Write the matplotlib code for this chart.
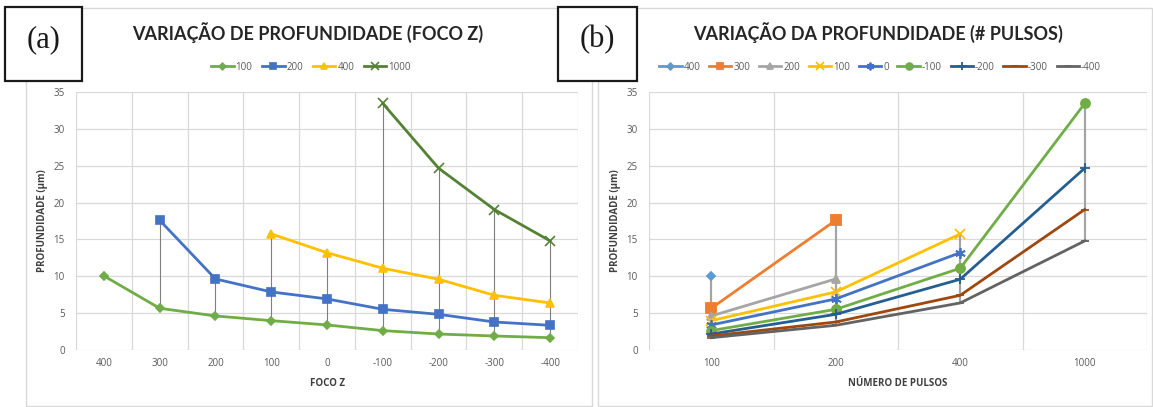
import numpy as np
import matplotlib
matplotlib.use('Agg')
import matplotlib.pyplot as plt
from matplotlib.patches import Rectangle

nan = np.nan

# foco Z (categories of chart a) and number of pulses (categories of chart b)
foco = ['400', '300', '200', '100', '0', '-100', '-200', '-300', '-400']
pulsos = ['100', '200', '400', '1000']

# profundidade (um) for each number of pulses, along foco Z
prof_100 = [10.05, 5.66, 4.62, 3.98, 3.40, 2.63, 2.17, 1.90, 1.67]
prof_200 = [nan, 17.6, 9.64, 7.88, 6.93, 5.52, 4.84, 3.80, 3.35]
prof_400 = [nan, nan, nan, 15.75, 13.2, 11.09, 9.6, 7.42, 6.38]
prof_1000 = [nan, nan, nan, nan, nan, 33.45, 24.67, 19.06, 14.8]

W, H = 1153, 407
TICK = '#595959'
GRID = '#D9D9D9'
plt.rcParams['font.family'] = ['Open Sans', 'DejaVu Sans']

fig = plt.figure(figsize=(W / 100, H / 100), dpi=100)


def fx(px):
    return px / W


def fy(py):
    return 1 - py / H


def style_axes(ax, n_cat, cat_labels, grid_at_cat):
    ax.set_xlim(-0.5, n_cat - 0.5)
    ax.set_ylim(0, 35)
    ax.set_yticks(range(0, 36, 5))
    ax.set_xticks(range(n_cat))
    ax.set_xticklabels(cat_labels)
    if grid_at_cat:
        ax.set_xticks(np.arange(-0.5, n_cat, 0.5), minor=True)
    else:
        ax.set_xticks(np.arange(-0.5, n_cat, 1.0), minor=True)
    ax.grid(axis='y', color=GRID, linewidth=0.9, zorder=0)
    ax.grid(axis='x', which='minor', color=GRID, linewidth=0.9, zorder=0)
    ax.tick_params(axis='both', which='both', length=0, labelsize=7, colors=TICK)
    ax.tick_params(axis='x', pad=6)
    ax.tick_params(axis='y', pad=8)
    for s in ax.spines.values():
        s.set_visible(False)
    ax.set_axisbelow(True)


# panel frames
fig.patches.append(Rectangle((fx(26), fy(406)), fx(592 - 26), (406 - 8) / H,
                             transform=fig.transFigure, fill=False, edgecolor=GRID, linewidth=1))
fig.patches.append(Rectangle((fx(598), fy(406)), fx(1152 - 598), (406 - 8) / H,
                             transform=fig.transFigure, fill=False, edgecolor=GRID, linewidth=1))

# ---------------- chart (a)
ax1 = fig.add_axes([fx(76), fy(350), fx(578 - 76), (350 - 92) / H])
style_axes(ax1, len(foco), foco, True)

series_a = [prof_100, prof_200, prof_400, prof_1000]
data_a = np.array(series_a, dtype=float)
xa = np.arange(len(foco))
lo = np.nanmin(data_a, axis=0)
hi = np.nanmax(data_a, axis=0)
ax1.vlines(xa, lo, hi, color='#7F7F7F', linewidth=0.8, zorder=2)

styles_a = [('100', '#70AD47', 'D', 4),
            ('200', '#4472C4', 's', 5.5),
            ('400', '#FFC000', '^', 5.5),
            ('1000', '#548235', 'x', 6.5)]
lines_a = []
for vals, (lab, col, mk, ms) in zip(series_a, styles_a):
    ln, = ax1.plot(xa, vals, color=col, marker=mk, markersize=ms, linewidth=2,
                   markeredgewidth=1.2, label=lab, zorder=3)
    lines_a.append(ln)

ax1.set_xlabel('FOCO Z', fontsize=7, fontweight='bold', color='#404040', labelpad=6)
ax1.set_ylabel('PROFUNDIDADE (µm)', fontsize=7, fontweight='bold', color='#404040', labelpad=4)

fig.text(fx(308), fy(33), 'VARIAÇÃO DE PROFUNDIDADE (FOCO Z)', ha='center', va='center',
         fontsize=13, fontweight='bold', color='#262626', family='Lato')
fig.legend(handles=lines_a, loc='center', bbox_to_anchor=(fx(311), fy(67)), ncol=4,
           frameon=False, fontsize=7, handlelength=2.3, handletextpad=0.2,
           columnspacing=1.0, labelcolor=TICK, markerscale=0.85)

# ---------------- chart (b)
ax2 = fig.add_axes([fx(649), fy(350), fx(1147 - 649), (350 - 92) / H])
style_axes(ax2, len(pulsos), pulsos, False)

data_b = data_a.T  # rows = foco Z, columns = pulses
xb = np.arange(len(pulsos))
ax2.vlines(xb, np.nanmin(data_b, axis=0), np.nanmax(data_b, axis=0),
           color='#A5A5A5', linewidth=1.6, zorder=2)

styles_b = [('#5B9BD5', 'D', 4.5), ('#ED7D31', 's', 6.5), ('#A5A5A5', '^', 6),
            ('#FFC000', 'x', 7), ('#4472C4', (6, 2, 0), 7.5), ('#70AD47', 'o', 6.5),
            ('#255E91', '+', 7), ('#9E480E', '_', 5.5), ('#636363', '_', 5.5)]
lines_b = []
for i, (col, mk, ms) in enumerate(styles_b):
    ln, = ax2.plot(xb, data_b[i], color=col, marker=mk, markersize=ms, linewidth=2,
                   markeredgewidth=1.3, label=foco[i], zorder=3)
    lines_b.append(ln)

ax2.set_xlabel('NÚMERO DE PULSOS', fontsize=7, fontweight='bold', color='#404040', labelpad=6)
ax2.set_ylabel('PROFUNDIDADE (µm)', fontsize=7, fontweight='bold', color='#404040', labelpad=4)

fig.text(fx(878), fy(33), 'VARIAÇÃO DA PROFUNDIDADE (# PULSOS)', ha='center', va='center',
         fontsize=13, fontweight='bold', color='#262626', family='Lato')
fig.legend(handles=lines_b, loc='center', bbox_to_anchor=(fx(880), fy(67)), ncol=9,
           frameon=False, fontsize=7, handlelength=2.3, handletextpad=0.2,
           columnspacing=0.9, labelcolor=TICK, markerscale=0.75)

# (a) / (b) boxes
for x0, x1, lab in [(5, 82, '(a)'), (558, 637, '(b)')]:
    fig.patches.append(Rectangle((fx(x0), fy(81)), fx(x1 - x0), (81 - 7) / H,
                                 transform=fig.transFigure, facecolor='white',
                                 edgecolor='#1a1a1a', linewidth=1.6, zorder=5))
    fig.text(fx((x0 + x1) / 2), fy(40), lab, ha='center', va='center', fontsize=22,
             family='Liberation Serif', color='#1a1a1a', zorder=6)

fig.savefig('out.png', dpi=100, facecolor='white')
